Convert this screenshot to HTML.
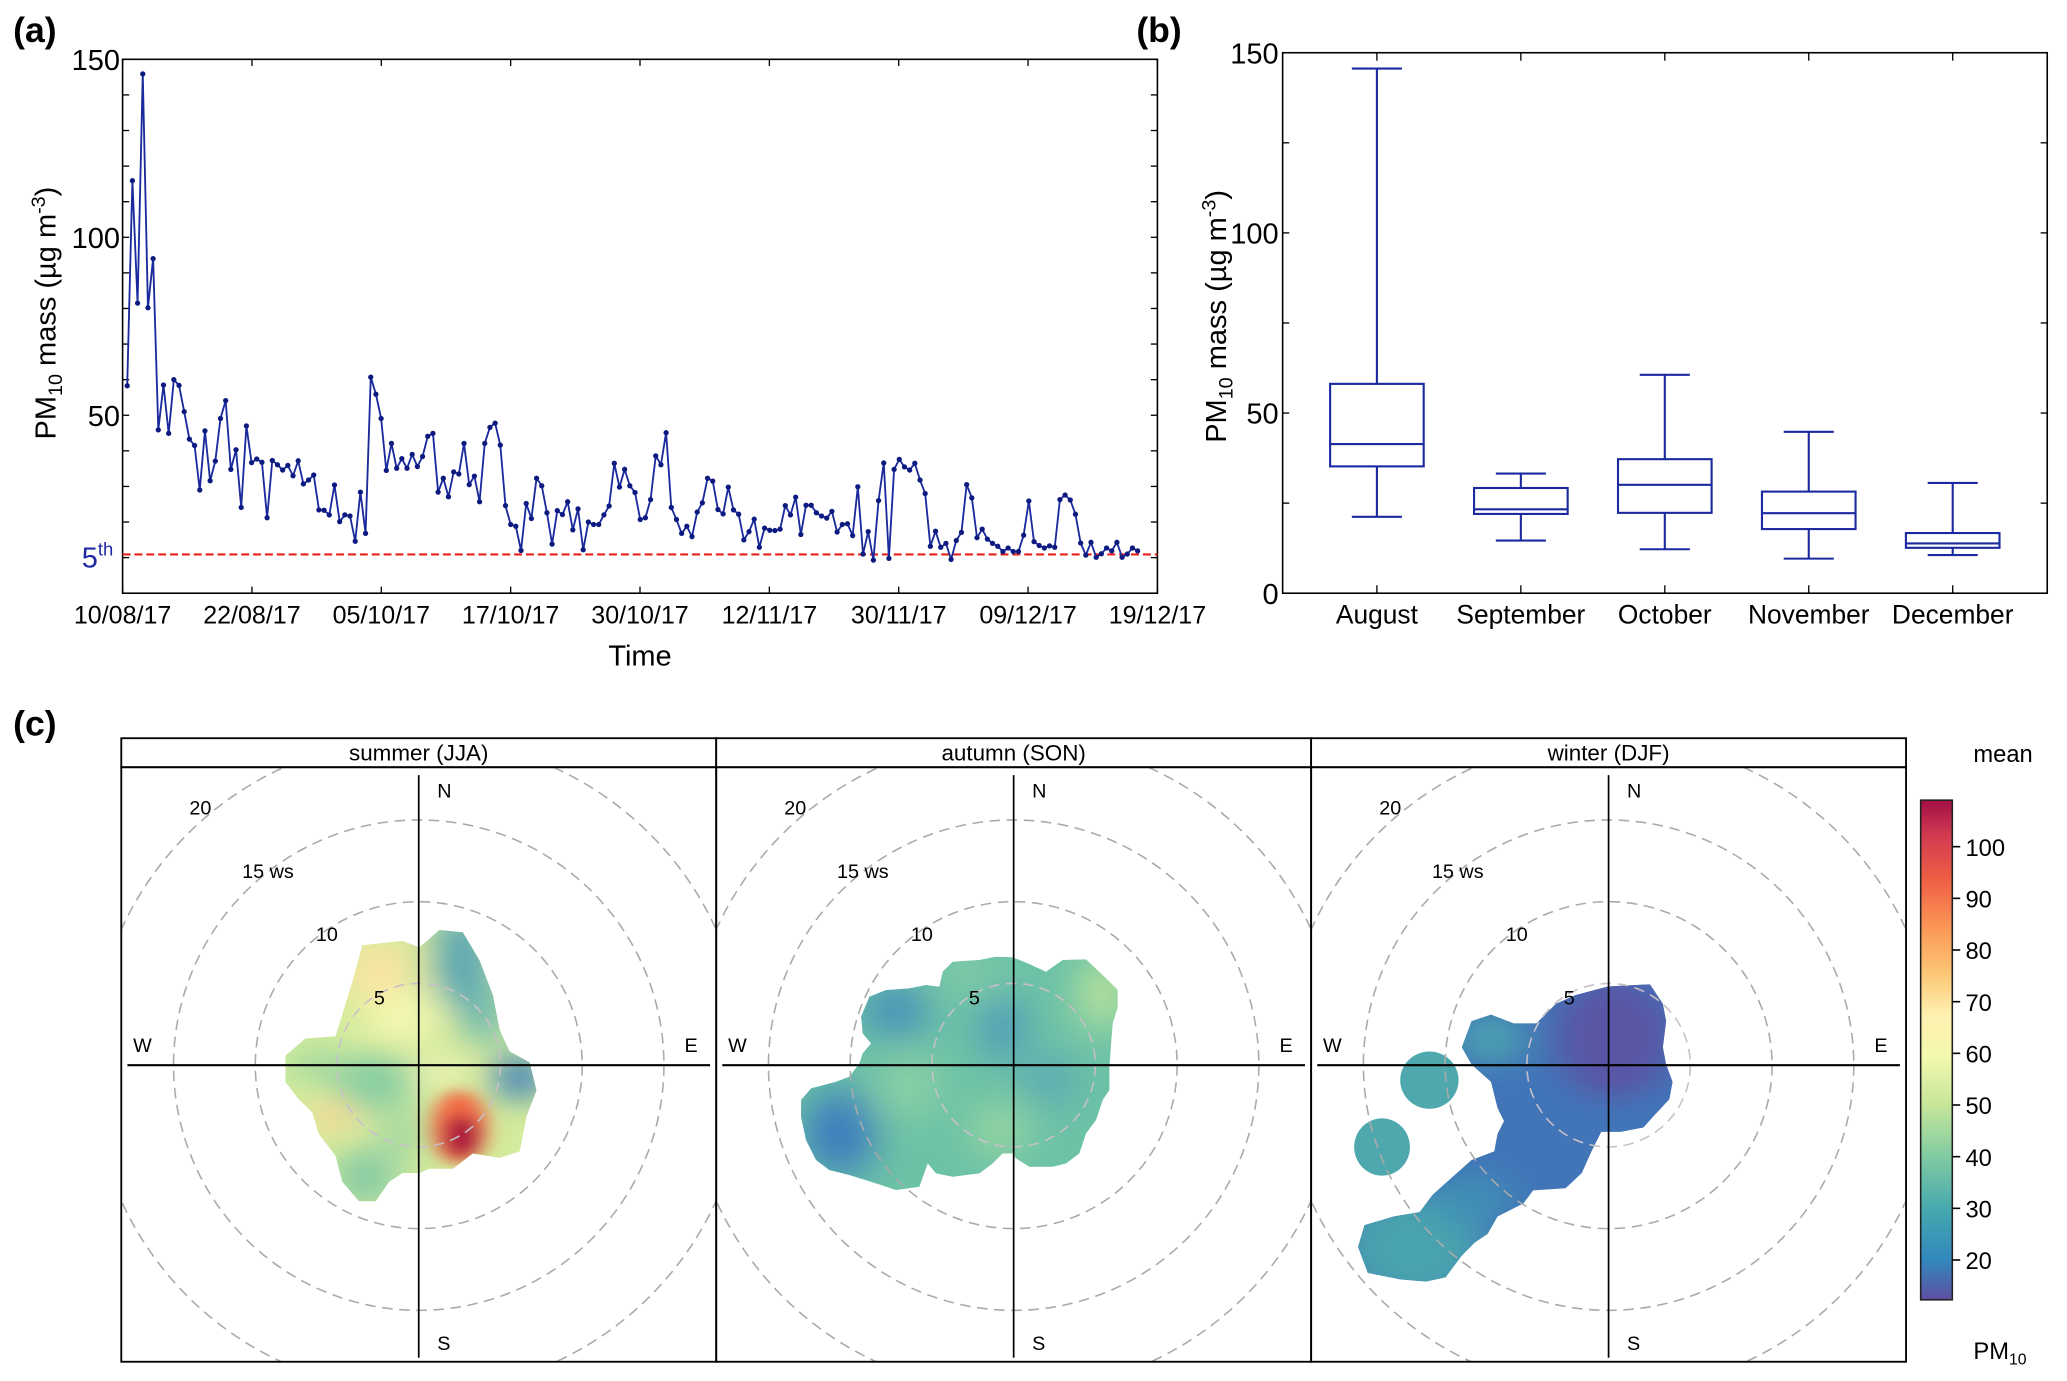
<!DOCTYPE html>
<html><head><meta charset="utf-8"><style>
html,body{margin:0;padding:0;background:#fff}
svg{display:block}
text{font-family:"Liberation Sans",sans-serif}
</style></head><body>
<svg id="fig" width="2067" height="1381" viewBox="0 0 1568 1047.6" xmlns="http://www.w3.org/2000/svg">
<defs>
<filter id="blur1" x="-50%" y="-50%" width="200%" height="200%"><feGaussianBlur stdDeviation="30"/></filter>
<filter id="blur3" x="-50%" y="-50%" width="200%" height="200%"><feGaussianBlur stdDeviation="15"/></filter>
<filter id="blur2" x="-50%" y="-50%" width="200%" height="200%"><feGaussianBlur stdDeviation="60"/></filter>
<linearGradient id="cbar" x1="0" y1="1" x2="0" y2="0">
<stop offset="0" stop-color="#5e4fa2"/><stop offset="0.08" stop-color="#3288bd"/><stop offset="0.18" stop-color="#46a8ae"/>
<stop offset="0.28" stop-color="#7cc9a3"/><stop offset="0.39" stop-color="#c6e69a"/><stop offset="0.49" stop-color="#f4f9ae"/>
<stop offset="0.57" stop-color="#fff0b0"/><stop offset="0.65" stop-color="#fdc877"/><stop offset="0.74" stop-color="#fb9a58"/>
<stop offset="0.84" stop-color="#ef5f45"/><stop offset="0.93" stop-color="#d23a50"/><stop offset="1" stop-color="#a20f45"/>
</linearGradient>
<clipPath id="clipS"><path d="M655,530 L690,535 L715,600 L735,680 L745,760 L760,810 L790,835 L800,900 L785,960 L775,1040 L745,1055 L705,1045 L675,1080 L640,1080 L625,1090 L600,1090 L580,1110 L560,1155 L535,1155 L510,1110 L500,1050 L475,1000 L465,950 L445,920 L425,880 L425,820 L455,780 L500,775 L515,700 L525,650 L540,565 L600,555 L625,570 Z"/></clipPath>
<clipPath id="clipA"><path d="M680,215 L710,185 L790,180 L840,170 L890,172 L935,190 L990,215 L1040,180 L1110,178 L1170,235 L1205,270 L1205,320 L1190,370 L1185,430 L1180,500 L1180,570 L1160,600 L1140,660 L1110,700 L1090,760 L1050,790 L1010,800 L940,800 L900,775 L890,760 L860,760 L830,790 L790,820 L710,830 L660,820 L635,790 L610,860 L540,870 L480,850 L400,825 L340,810 L300,780 L270,720 L255,650 L255,600 L285,565 L360,545 L400,530 L430,490 L440,460 L465,430 L440,400 L435,350 L460,290 L510,270 L580,265 L630,255 L670,260 Z"/></clipPath>
<clipPath id="clipW"><path d="M860,660 L925,655 L945,700 L950,740 L945,800 L950,840 L960,880 L955,920 L930,960 L915,985 L880,995 L850,995 L835,1040 L820,1090 L795,1125 L745,1130 L730,1160 L690,1190 L675,1230 L655,1250 L635,1280 L610,1330 L580,1340 L540,1335 L490,1320 L475,1260 L485,1210 L530,1190 L570,1180 L590,1140 L620,1100 L650,1060 L685,1040 L690,1000 L700,970 L690,940 L680,880 L650,840 L635,800 L650,740 L680,725 L715,745 L750,745 L780,700 L810,680 Z"/></clipPath>
<clipPath id="p0"><rect x="92" y="582" width="451" height="451"/></clipPath>
<clipPath id="p1"><rect x="543" y="582" width="451" height="451"/></clipPath>
<clipPath id="p2"><rect x="994" y="582" width="451" height="451"/></clipPath>
</defs>

<text x="10" y="32" font-size="27" font-weight="bold">(a)</text>
<text x="862" y="32" font-size="27" font-weight="bold">(b)</text>
<text x="10" y="558" font-size="27" font-weight="bold">(c)</text>

<g id="chartA"></g>
<g id="chartB"></g>

<g id="polar">
 <g clip-path="url(#p0)">
  <g transform="translate(0.56,531.03) scale(0.508,0.3292)">
   <g clip-path="url(#clipS)">
    <rect x="400" y="500" width="420" height="700" fill="#d3eb9c"/>
    <g filter="url(#blur1)">
     <ellipse cx="565" cy="640" rx="45" ry="90" fill="#fde3a0"/>
     <ellipse cx="600" cy="730" rx="50" ry="70" fill="#f4f7b0"/>
     <ellipse cx="690" cy="600" rx="40" ry="120" fill="#4f9fb6"/>
     <ellipse cx="720" cy="720" rx="30" ry="80" fill="#62b1b2"/>
     <ellipse cx="775" cy="870" rx="35" ry="60" fill="#3a7dbb"/>
     <ellipse cx="560" cy="880" rx="55" ry="70" fill="#86cda3"/>
     <ellipse cx="545" cy="1100" rx="45" ry="70" fill="#82c9a5"/>
     <ellipse cx="470" cy="840" rx="40" ry="50" fill="#a8dba0"/>
     <ellipse cx="600" cy="1000" rx="30" ry="60" fill="#9ed6a0"/>
     <ellipse cx="495" cy="960" rx="30" ry="40" fill="#fdd597"/>
     <ellipse cx="655" cy="860" rx="25" ry="40" fill="#fbf8c0"/>
    </g>
    <g filter="url(#blur3)">
     <ellipse cx="685" cy="985" rx="42" ry="85" fill="#f26a44"/>
     <ellipse cx="688" cy="1005" rx="25" ry="50" fill="#a7083c"/>
    </g>
   </g>
  </g>
 </g>
 <g clip-path="url(#p1)">
  <g transform="translate(543.17,682.75) scale(0.25288)">
   <g clip-path="url(#clipA)">
    <rect x="240" y="160" width="980" height="720" fill="#6cc2a6"/>
    <g filter="url(#blur2)">
     <ellipse cx="370" cy="700" rx="110" ry="130" fill="#3a7cbf"/>
     <ellipse cx="540" cy="330" rx="100" ry="70" fill="#3f86bf"/>
     <ellipse cx="860" cy="380" rx="60" ry="90" fill="#4690bf"/>
     <ellipse cx="1000" cy="540" rx="80" ry="60" fill="#55a2b9"/>
     <ellipse cx="1160" cy="280" rx="70" ry="110" fill="#c3e69a"/>
     <ellipse cx="580" cy="560" rx="90" ry="80" fill="#93d4a4"/>
     <ellipse cx="850" cy="690" rx="80" ry="70" fill="#a6dba0"/>
     <ellipse cx="750" cy="220" rx="120" ry="50" fill="#84cda5"/>
    </g>
   </g>
  </g>
 </g>
 <g clip-path="url(#p2)">
  <g transform="translate(796.5,531.03) scale(0.492,0.3292)">
   <g clip-path="url(#clipW)">
    <rect x="460" y="640" width="520" height="720" fill="#4175b8"/>
    <g filter="url(#blur1)">
     <ellipse cx="870" cy="780" rx="90" ry="140" fill="#5a54a5"/>
     <ellipse cx="680" cy="780" rx="45" ry="60" fill="#4ba5ae"/>
     <ellipse cx="560" cy="1260" rx="110" ry="120" fill="#4aa3ae"/>
     <ellipse cx="650" cy="1150" rx="60" ry="60" fill="#3f8fb5"/>
    </g>
   </g>
   <ellipse cx="585" cy="876" rx="45" ry="66" fill="#4ea8ad"/>
   <ellipse cx="512" cy="1030" rx="43" ry="66" fill="#4ea8ad"/>
  </g>
 </g>
 <g id="polarGrid"></g>
</g>

<g id="colorbar">
 <text x="1497" y="578" font-size="18">mean</text>
 <rect x="1457" y="607" width="24" height="379" fill="url(#cbar)" stroke="#222" stroke-width="1.2"/>
 <text x="1497" y="1031" font-size="18">PM<tspan font-size="12" dy="4">10</tspan></text>
</g>
</svg>
<script>
const tsValues = [58.3,115.9,81.5,145.9,80.2,94,45.9,58.5,44.9,60,58.4,51,43.3,41.5,29,45.6,31.6,37.1,49.1,54.1,34.8,40.3,24.1,47,36.7,37.7,36.8,21.2,37.3,36.1,34.6,35.9,33,37.2,30.7,31.8,33.2,23.4,23.3,22,30.4,20.1,22,21.7,14.6,28.4,16.8,60.7,55.9,49.1,34.5,42.1,35.1,37.8,35.1,39,35.6,38.4,44.1,44.9,28.4,32.3,27.1,34.1,33.5,42.1,30.5,32.9,25.7,42.1,46.6,47.8,41.6,24.6,19.3,18.8,12,25.2,21,32.3,30.2,22.6,13.8,23.2,22.1,25.7,17.8,23.7,12.2,20,19.3,19.3,22,24.5,36.5,29.8,34.8,30.2,28.3,20.7,21.2,26.3,38.6,36.1,45.1,24.1,20.7,16.8,18.8,15.9,22.8,25.4,32.3,31.5,23.5,22.3,29.8,23.4,22.2,15,17.3,20.8,12.9,18.3,17.7,17.6,18,24.6,22,27,16.5,24.7,24.7,22.6,21.7,21.1,23,17.2,19.3,19.5,16.2,29.9,11,17.3,9.3,26,36.6,9.8,34.8,37.6,35.5,34.6,36.5,31.8,28,13.2,17.4,12.9,14,9.5,14.8,17.1,30.5,26.8,15.6,18,15.2,14,13.2,11.7,12.7,11.7,11.7,16.3,25.9,14.5,13.4,12.7,13.3,12.9,26.3,27.6,26.2,22.2,14.1,10.7,14.3,10.1,11.1,12.7,11.9,14.3,10.1,11,12.7,11.9];
const tsDateLabels = ["10/08/17","22/08/17","05/10/17","17/10/17","30/10/17","12/11/17","30/11/17","09/12/17","19/12/17"];
const tsYTicks = [50,100,150];
const pct5 = 10.9;
const months = ["August","September","October","November","December"];
const whiskLo = [21.2,14.6,12.2,9.6,10.6];
const q1 = [35.2,22,22.3,17.8,12.6];
const med = [41.4,23.3,30.1,22.2,13.8];
const q3 = [58.1,29.2,37.2,28.2,16.7];
const whiskHi = [145.6,33.2,60.6,44.8,30.6];
const boxYTicks = [0,50,100,150];
const seasons = ["summer (JJA)","autumn (SON)","winter (DJF)"];
const ringSpeeds = [5,10,15,20];
const cbTicks = [20,30,40,50,60,70,80,90,100];

const NS="http://www.w3.org/2000/svg";
function mk(parent,tag,attrs,txt){const e=document.createElementNS(NS,tag);for(const k in attrs)e.setAttribute(k,attrs[k]);if(txt!==undefined)e.textContent=txt;parent.appendChild(e);return e;}

(function(){
 const g=document.getElementById('chartA');
 const L=93,R=878,T=45,B=450,vmax=150;
 const y=v=>B-(v/vmax)*(B-T);
 const n=tsValues.length;
 const x0=96.5,x1=863;
 const x=i=>x0+(x1-x0)*i/(n-1);
 const frame=mk(g,'rect',{x:L,y:T,width:R-L,height:B-T,fill:'none',stroke:'#000','stroke-width':1.2});
 
 
 for(let v=0;v<=vmax;v+=10){
  mk(g,'line',{x1:L,x2:L+5,y1:y(v),y2:y(v),stroke:'#000','stroke-width':1});
  mk(g,'line',{x1:R,x2:R-5,y1:y(v),y2:y(v),stroke:'#000','stroke-width':1});
 }
 tsYTicks.forEach(v=>{
  const t=mk(g,'text',{x:L-2,y:y(v)+8,'font-size':22,'text-anchor':'end'},String(v));
  
  
 });
 tsDateLabels.forEach((d,i)=>{
  const xx=L+(R-L)*i/(tsDateLabels.length-1);
  mk(g,'line',{x1:xx,x2:xx,y1:B,y2:B-5,stroke:'#000'});
  mk(g,'line',{x1:xx,x2:xx,y1:T,y2:T+5,stroke:'#000'});
  const t=mk(g,'text',{x:xx,y:B+23,'font-size':19,'text-anchor':'middle'},d);
  
  
 });
 const xt=mk(g,'text',{x:(L+R)/2,y:505,'font-size':22,'text-anchor':'middle'},'Time');
 
 
 const yt=mk(g,'text',{x:0,y:0,'font-size':22,'text-anchor':'middle',transform:`translate(42,${(T+B)/2-10}) rotate(-90)`});
 yt.innerHTML='PM<tspan font-size="15" dy="5">10</tspan><tspan dy="-5"> mass (µg m</tspan><tspan font-size="15" dy="-8">-3</tspan><tspan dy="8">)</tspan>';
 
 
 const p5=mk(g,'line',{x1:L,x2:R,y1:y(pct5),y2:y(pct5),stroke:'#e8201a','stroke-width':1.6,'stroke-dasharray':'6 3'});
 
 
 const p5t=mk(g,'text',{x:62,y:y(pct5)+10,'font-size':22,fill:'#1f2aa0'});
 p5t.innerHTML='5<tspan font-size="14" dy="-9">th</tspan>';
 
 
 const pts=tsValues.map((v,i)=>x(i).toFixed(2)+','+y(v).toFixed(2)).join(' ');
 const line=mk(g,'polyline',{points:pts,fill:'none',stroke:'#1b2a9c','stroke-width':1.4});
 
 
 tsValues.forEach((v,i)=>{
  const c=mk(g,'circle',{cx:x(i),cy:y(v),r:2,fill:'#0d1a80'});
  
  
 });
})();

(function(){
 const g=document.getElementById('chartB');
 const L=973,R=1553,T=40,B=450,vmax=150;
 const y=v=>B-(v/vmax)*(B-T);
 const cx=i=>L+71.5+109.2*i;
 const fr=mk(g,'rect',{x:L,y:T,width:R-L,height:B-T,fill:'none',stroke:'#000','stroke-width':1.2});
 
 
 for(let v=0;v<=vmax;v+=25){
  mk(g,'line',{x1:L,x2:L+5,y1:y(v),y2:y(v),stroke:'#000'});
  mk(g,'line',{x1:R,x2:R-5,y1:y(v),y2:y(v),stroke:'#000'});
 }
 boxYTicks.forEach(v=>{
  const t=mk(g,'text',{x:L-3,y:y(v)+8,'font-size':22,'text-anchor':'end'},String(v));
  
  
 });
 const yt=mk(g,'text',{x:0,y:0,'font-size':22,'text-anchor':'middle',transform:`translate(930,${(T+B)/2-5}) rotate(-90)`});
 yt.innerHTML='PM<tspan font-size="15" dy="5">10</tspan><tspan dy="-5"> mass (µg m</tspan><tspan font-size="15" dy="-8">-3</tspan><tspan dy="8">)</tspan>';
 
 
 const col='#1b2aa0';
 months.forEach((m,i)=>{
  const c=cx(i),hw=35.5,cw=19;
  mk(g,'line',{x1:c,x2:c,y1:B,y2:B-6,stroke:'#000'});
  mk(g,'line',{x1:c,x2:c,y1:T,y2:T+6,stroke:'#000'});
  const grp=mk(g,'g',{});
  
  
  mk(grp,'line',{x1:c,x2:c,y1:y(whiskHi[i]),y2:y(q3[i]),stroke:col,'stroke-width':1.6});
  mk(grp,'line',{x1:c,x2:c,y1:y(q1[i]),y2:y(whiskLo[i]),stroke:col,'stroke-width':1.6});
  mk(grp,'line',{x1:c-cw,x2:c+cw,y1:y(whiskHi[i]),y2:y(whiskHi[i]),stroke:col,'stroke-width':1.6});
  mk(grp,'line',{x1:c-cw,x2:c+cw,y1:y(whiskLo[i]),y2:y(whiskLo[i]),stroke:col,'stroke-width':1.6});
  mk(grp,'rect',{x:c-hw,y:y(q3[i]),width:2*hw,height:y(q1[i])-y(q3[i]),fill:'none',stroke:col,'stroke-width':1.6});
  mk(grp,'line',{x1:c-hw,x2:c+hw,y1:y(med[i]),y2:y(med[i]),stroke:col,'stroke-width':1.6});
  const t=mk(g,'text',{x:c,y:B+23,'font-size':20,'text-anchor':'middle'},m);
  
  
 });
})();

(function(){
 const g=document.getElementById('polarGrid');
 const X0=92,W=451.3,T=560,S=582,B=1033,cy=808,k=12.4;
 seasons.forEach((s,i)=>{
  const cx=X0+W*i+W/2;
  const grid=mk(g,'g',{'clip-path':`url(#p${i})`});
  
  
  ringSpeeds.forEach(r=>{
   mk(grid,'circle',{cx:cx,cy:cy,r:r*k,fill:'none',stroke:r===5?'#c8c0c8':'#aaa','stroke-width':1.2,'stroke-dasharray':'8 5'});
  });
  const lbl=[["20",-174,-190],["15 ws",-134,-142],["10",-78,-94],["5",-34,-46]];
  lbl.forEach(l=>{
   const t=mk(g,'text',{x:cx+l[1],y:cy+l[2],'font-size':15},l[0]);
   
   
  });
  mk(g,'line',{x1:cx,x2:cx,y1:588,y2:1030,stroke:'#000','stroke-width':1.3});
  mk(g,'line',{x1:cx-221,x2:cx+221,y1:cy,y2:cy,stroke:'#000','stroke-width':1.6});
  [["N",cx+14,605],["S",cx+14,1024],["W",X0+W*i+9,798],["E",X0+W*(i+1)-24,798]].forEach(d=>{
   const t=mk(g,'text',{x:d[1],y:d[2],'font-size':15},d[0]);
   
   
  });
  const strip=mk(g,'rect',{x:X0+W*i,y:T,width:W,height:S-T,fill:'#fff',stroke:'#000','stroke-width':1.4});
  
  
  const st=mk(g,'text',{x:cx,y:577,'font-size':17,'text-anchor':'middle'},s);
  
  
  const pf=mk(g,'rect',{x:X0+W*i,y:S,width:W,height:B-S,fill:'none',stroke:'#000','stroke-width':1.4});
  
  
 });
 const cb=document.getElementById('colorbar');
 const top=607,bot=986,vtop=109,vbot=12.3;
 const yc=v=>bot-(v-vbot)/(vtop-vbot)*(bot-top);
 cbTicks.forEach(v=>{
  mk(cb,'line',{x1:1481,x2:1487,y1:yc(v),y2:yc(v),stroke:'#000','stroke-width':1.2});
  const t=mk(cb,'text',{x:1491,y:yc(v)+7,'font-size':18},String(v));
  
  
 });
})();
</script>
</body></html>
